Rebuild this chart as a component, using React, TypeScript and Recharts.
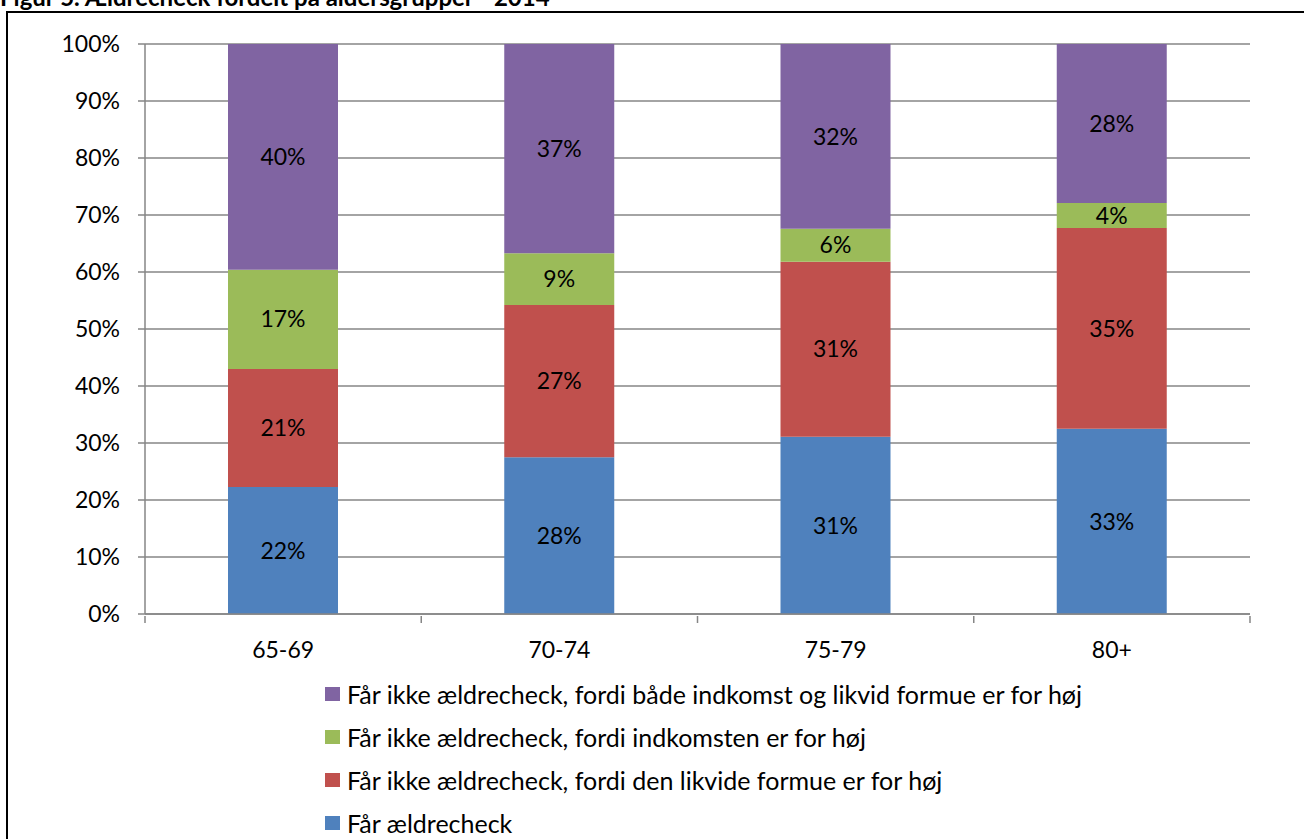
import { BarChart, Bar, XAxis, YAxis, CartesianGrid, Legend, LabelList } from "recharts";

const categories = ["65-69", "70-74", "75-79", "80+"];
const faarCheck = [22.3, 27.5, 31.1, 32.5];
const formueForHoej = [20.7, 26.7, 30.7, 35.2];
const indkomstForHoej = [17.4, 9.1, 5.8, 4.4];
const beggeForHoej = [39.6, 36.7, 32.4, 27.9];
const yTicks = [0, 10, 20, 30, 40, 50, 60, 70, 80, 90, 100];
const legendOrder = ["begge", "indkomst", "formue", "faar"];

const seriesNames = {
  faar: "Får ældrecheck",
  formue: "Får ikke ældrecheck, fordi den likvide formue er for høj",
  indkomst: "Får ikke ældrecheck, fordi indkomsten er for høj",
  begge: "Får ikke ældrecheck, fordi både indkomst og likvid formue er for høj",
};

const data = categories.map((cat, i) => ({
  cat,
  faar: faarCheck[i],
  formue: formueForHoej[i],
  indkomst: indkomstForHoej[i],
  begge: beggeForHoej[i],
}));

const FONT = "Lato, 'Open Sans', sans-serif";
const GRID = "#868686";

const fmt = (v: any) => `${Math.round(Number(v))}%`;

// category label plus Excel-style tick marks at the band edges
function CatTick(props: any) {
  const { x, y, payload, index } = props;
  const half = payload?.offset ?? 0;
  const last = index === categories.length - 1;
  return (
    <g>
      <line x1={x - half} x2={x - half} y1={y} y2={y + 7} stroke={GRID} strokeWidth={1.5} />
      {last && <line x1={x + half} x2={x + half} y1={y} y2={y + 7} stroke={GRID} strokeWidth={1.5} />}
      <text x={x} y={y + 36} textAnchor="middle" dominantBaseline="middle" fill="#000" fontSize={23} fontFamily={FONT}>
        {payload.value}
      </text>
    </g>
  );
}

function LegendBox(props: any) {
  const items = [...(props.payload || [])].sort(
    (a: any, b: any) => legendOrder.indexOf(a.dataKey) - legendOrder.indexOf(b.dataKey)
  );
  return (
    <div style={{ fontFamily: FONT, fontSize: 25, color: "#000" }}>
      {items.map((it: any) => (
        <div key={it.value} style={{ display: "flex", alignItems: "center", height: 43 }}>
          <span style={{ width: 15, height: 14, background: it.color, display: "inline-block", marginRight: 7 }} />
          <span>{it.value}</span>
        </div>
      ))}
    </div>
  );
}

export default function App() {
  return (
    <div style={{ position: "fixed", left: 0, top: 0, width: 1304, height: 839, overflow: "hidden", background: "#fff" }}>
      <div
        style={{
          position: "absolute",
          left: 0,
          top: -18,
          fontFamily: FONT,
          fontWeight: 700,
          fontSize: 24,
          whiteSpace: "nowrap",
          color: "#000",
        }}
      >
        Figur 5. Ældrecheck fordelt på aldersgrupper - 2014
      </div>
      <div
        style={{
          position: "absolute",
          left: 6,
          top: 11,
          width: 1400,
          height: 900,
          borderLeft: "2px solid #000",
          borderTop: "2px solid #000",
        }}
      />
      <div style={{ position: "absolute", left: 0, top: 0 }}>
        <BarChart
          width={1304}
          height={839}
          data={data}
          margin={{ top: 44, right: 54, bottom: 165, left: 0 }}
          barSize={110}
        >
          <CartesianGrid vertical={false} stroke={GRID} strokeWidth={1.5} />
          <XAxis
            dataKey="cat"
            height={60}
            stroke={GRID}
            strokeWidth={1.5}
            tickLine={false}
            tickSize={0}
            tick={<CatTick />}
          />
          <YAxis
            width={145}
            domain={[0, 100]}
            ticks={yTicks}
            tickFormatter={(v) => `${v}%`}
            stroke={GRID}
            strokeWidth={1.5}
            tickSize={7}
            tickMargin={18}
            tick={{ fill: "#000", fontSize: 23, fontFamily: FONT }}
          />
          <Legend
            layout="vertical"
            align="center"
            verticalAlign="middle"
            content={<LegendBox />}
            wrapperStyle={{ top: 672, left: 325, width: "auto", height: "auto" }}
          />
          <Bar dataKey="faar" name={seriesNames.faar} stackId="s" fill="#4F81BD" isAnimationActive={false}>
            <LabelList dataKey="faar" position="center" formatter={fmt} fill="#000" fontSize={23} fontFamily={FONT} />
          </Bar>
          <Bar dataKey="formue" name={seriesNames.formue} stackId="s" fill="#C0504D" isAnimationActive={false}>
            <LabelList dataKey="formue" position="center" formatter={fmt} fill="#000" fontSize={23} fontFamily={FONT} />
          </Bar>
          <Bar dataKey="indkomst" name={seriesNames.indkomst} stackId="s" fill="#9BBB59" isAnimationActive={false}>
            <LabelList dataKey="indkomst" position="center" formatter={fmt} fill="#000" fontSize={23} fontFamily={FONT} />
          </Bar>
          <Bar dataKey="begge" name={seriesNames.begge} stackId="s" fill="#8064A2" isAnimationActive={false}>
            <LabelList dataKey="begge" position="center" formatter={fmt} fill="#000" fontSize={23} fontFamily={FONT} />
          </Bar>
        </BarChart>
      </div>
    </div>
  );
}
